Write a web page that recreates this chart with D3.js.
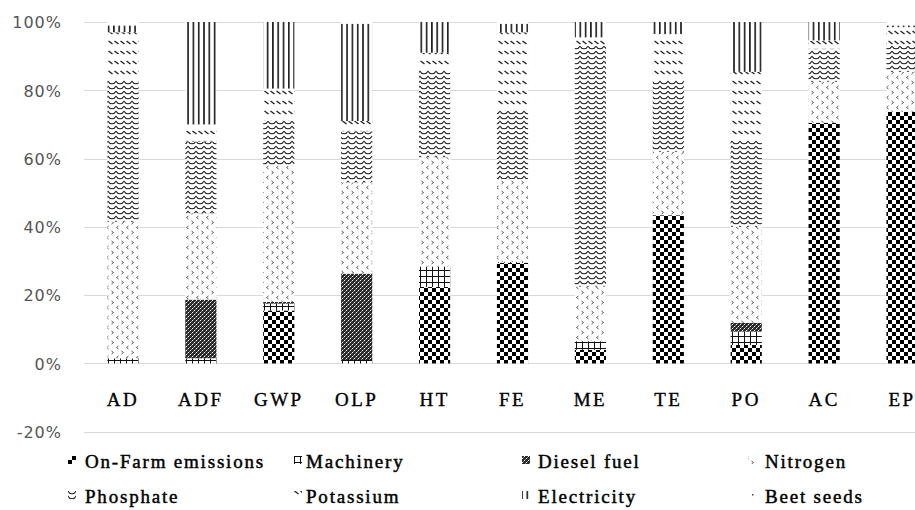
<!DOCTYPE html>
<html>
<head>
<meta charset="utf-8">
<script src="https://cdn.jsdelivr.net/npm/d3@7"></script>
<style>
  html, body { margin: 0; padding: 0; background: #fff; }
  svg { display: block; }
</style>
</head>
<body>
<div id="chart"></div>
<script>
// ---------- DATA (percent of total, bottom to top) ----------
const categories = ["AD", "ADF", "GWP", "OLP", "HT", "FE", "ME", "TE", "PO", "AC", "EP"];
const seriesNames = ["On-Farm emissions", "Machinery", "Diesel fuel", "Nitrogen", "Phosphate", "Potassium", "Electricity", "Beet seeds"];
const onFarm      = [0,    0,    15.5, 0,    22.4, 29.5, 4,    43.4, 5.4,  70.5, 73.7];
const machinery   = [1.5,  1.5,  2,    1,    6,    0.3,  2.5,  0,    3.9,  0,    0];
const diesel      = [0,    17.2, 0.5,  25.3, 0,    0,    0,    0,    2.6,  0,    0];
const nitrogen    = [40,   25.3, 40,   26.7, 32,   24.2, 16,   18.6, 28.1, 12,   11.7];
const phosphate   = [41.5, 21,   13,   15,   25.6, 20,   70.5, 21,   25.4, 9.7,  7.6];
const potassium   = [14,   5,    9.5,  3,    5,    23,   2.5,  13.5, 20,   2.4,  5.5];
const electricity = [2,    30,   19.5, 28.5, 9,    2.5,  4.5,  3.5,  14.6, 5.4,  0.5];
const beetSeeds   = [1,    0,    0,    0.5,  0,    0.5,  0,    0,    0,    0,    1];
const yTicks = [-20, 0, 20, 40, 60, 80, 100];

const seriesValues = [onFarm, machinery, diesel, nitrogen, phosphate, potassium, electricity, beetSeeds];
const table = categories.map((c, i) => {
  const row = { category: c };
  seriesNames.forEach((s, k) => row[s] = seriesValues[k][i]);
  return row;
});

// ---------- SETUP ----------
const W = 915, H = 510;
const svg = d3.select("#chart").append("svg").attr("width", W).attr("height", H);
const defs = svg.append("defs");

function pat(id, w, h, build) {
  const p = defs.append("pattern").attr("id", id)
    .attr("patternUnits", "userSpaceOnUse").attr("width", w).attr("height", h);
  p.append("rect").attr("width", w).attr("height", h).attr("fill", "#fff");
  build(p);
}
// On-Farm: large checkerboard
pat("p0", 8, 8, p => {
  p.append("rect").attr("x", 0).attr("y", 0).attr("width", 4).attr("height", 4).attr("fill", "#000");
  p.append("rect").attr("x", 4).attr("y", 4).attr("width", 4).attr("height", 4).attr("fill", "#000");
});
// Machinery: grid
pat("p1", 6, 6, p => {
  p.append("rect").attr("x", 0).attr("y", 0).attr("width", 6).attr("height", 1).attr("fill", "#111");
  p.append("rect").attr("x", 0).attr("y", 0).attr("width", 1).attr("height", 6).attr("fill", "#111");
});
// Diesel: dark dotted
pat("p2", 4, 4, p => {
  p.select("rect").attr("fill", "#2a2a2a");
  p.append("rect").attr("x", 0).attr("y", 0).attr("width", 1).attr("height", 1).attr("fill", "#fff");
  p.append("rect").attr("x", 2).attr("y", 2).attr("width", 1).attr("height", 1).attr("fill", "#fff");
  p.append("rect").attr("x", 1).attr("y", 3).attr("width", 1).attr("height", 1).attr("fill", "#888");
  p.append("rect").attr("x", 3).attr("y", 1).attr("width", 1).attr("height", 1).attr("fill", "#888");
});
// Nitrogen: sparse chevrons
pat("p3", 10, 10, p => {
  p.append("path").attr("d", "M1.5,1 L3.5,2.5 L1.5,4").attr("fill", "none").attr("stroke", "#444").attr("stroke-width", 0.9);
  p.append("path").attr("d", "M8.5,6 L6.5,7.5 L8.5,9").attr("fill", "none").attr("stroke", "#444").attr("stroke-width", 0.9);
});
// Phosphate: waves
pat("p4", 8, 5, p => {
  p.append("path").attr("d", "M0,3.8 L2,3.4 L4,1.2 L6,3.4 L8,3.8")
    .attr("fill", "none").attr("stroke", "#222").attr("stroke-width", 1.1);
});
// Potassium: diagonal dashes
pat("p5", 6, 10, p => {
  p.append("path").attr("d", "M0.5,1 L4.5,4").attr("fill", "none").attr("stroke", "#222").attr("stroke-width", 1.4);
});
// Electricity: vertical lines
pat("p6", 5.3, 10, p => {
  p.append("rect").attr("x", 1.8).attr("y", 0).attr("width", 1.6).attr("height", 10).attr("fill", "#1a1a1a");
});
// Beet seeds: sparse dots
pat("p7", 6, 6, p => {
  p.append("rect").attr("x", 2).attr("y", 2).attr("width", 1.5).attr("height", 1.5).attr("fill", "#444");
});

// ---------- SCALES ----------
const x = d3.scaleBand().domain(categories).range([84, 941]).paddingInner(0.6).paddingOuter(0.3);
const y = d3.scaleLinear().domain([-20, 100]).range([431.7, 22]);

// gridlines
svg.append("g").selectAll("line").data(yTicks).join("line")
  .attr("x1", 84).attr("x2", W)
  .attr("y1", d => Math.round(y(d)) + 0.5).attr("y2", d => Math.round(y(d)) + 0.5)
  .attr("stroke", "#d9d9d9").attr("stroke-width", 1);

// y axis labels
const yAxis = d3.axisLeft(y).tickValues(yTicks).tickFormat(d => d + "%").tickSize(0).tickPadding(0);
const gy = svg.append("g").attr("transform", "translate(62,0)").call(yAxis);
gy.select(".domain").remove();
gy.selectAll("text")
  .attr("font-family", "'DejaVu Sans', sans-serif").attr("font-size", 16)
  .attr("letter-spacing", 1).attr("fill", "#555").attr("dy", "0.36em");

// stacked bars
const stack = d3.stack().keys(seriesNames)(table);
svg.append("g").selectAll("g").data(stack).join("g")
  .attr("fill", (d, i) => `url(#p${i})`)
  .selectAll("rect").data(d => d).join("rect")
  .attr("x", d => x(d.data.category))
  .attr("width", x.bandwidth())
  .attr("y", d => y(d[1]))
  .attr("height", d => Math.max(0, y(d[0]) - y(d[1])));

// category labels
const xAxis = d3.axisBottom(x).tickSize(0).tickPadding(0);
const gx = svg.append("g").attr("transform", "translate(0,406)").call(xAxis);
gx.select(".domain").remove();
gx.selectAll("text")
  .attr("dy", 0).attr("y", 0)
  .attr("font-family", "'Liberation Serif', 'Times New Roman', serif").attr("font-size", 19)
  .attr("letter-spacing", 2.5).attr("fill", "#000")
  .attr("stroke", "#000").attr("stroke-width", 0.35);

// legend
const legMarkerX = [68, 294, 522, 748];
const legTextX = [85, 306, 538, 765];
const legRowY = [468, 503];
const leg = svg.append("g").selectAll("g").data(seriesNames).join("g");
leg.append("rect")
  .attr("x", (d, i) => legMarkerX[i % 4])
  .attr("y", (d, i) => legRowY[Math.floor(i / 4)] - 12)
  .attr("width", 8).attr("height", 8)
  .attr("fill", (d, i) => `url(#p${i})`);
leg.append("text")
  .attr("x", (d, i) => legTextX[i % 4])
  .attr("y", (d, i) => legRowY[Math.floor(i / 4)])
  .attr("font-family", "'Liberation Serif', 'Times New Roman', serif").attr("font-size", 19)
  .attr("letter-spacing", 1.8).attr("fill", "#000")
  .attr("stroke", "#000").attr("stroke-width", 0.45)
  .text(d => d);
</script>
</body>
</html>
